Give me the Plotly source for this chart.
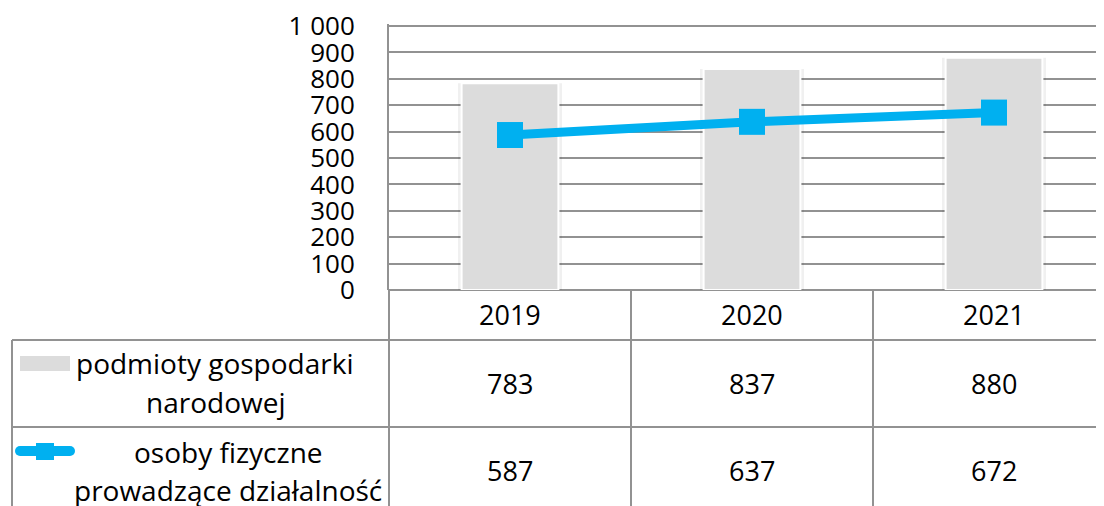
import plotly.graph_objects as go

# chart data
years = ["2019", "2020", "2021"]
podmioty = [783, 837, 880]
osoby = [587, 637, 672]
row_labels = [["podmioty gospodarki", "narodowej"],
              ["osoby fizyczne", "prowadzące działalność"]]

# page body has an 8px margin, so the figure is shifted by 8px in the window
OFF = 8
W, H = 1104 - OFF, 506 - OFF
FONT = "Open Sans"
GRID = "#929292"
BAR = "#DCDCDC"
BLUE = "#00B0F0"


def px(x):
    # window pixel -> paper x
    return (x - OFF) / W


def py(y):
    # window pixel -> paper y
    return 1 - (y - OFF) / H


fig = go.Figure()

# soft shadow behind the bars
fig.add_trace(go.Bar(x=years, y=podmioty, width=0.43,
                     marker=dict(color="rgba(0,0,0,0.06)", line=dict(width=0)),
                     hoverinfo="skip", showlegend=False))
fig.add_trace(go.Bar(x=years, y=podmioty, width=0.4, name="podmioty gospodarki narodowej",
                     marker=dict(color=BAR, line=dict(color="white", width=2)),
                     showlegend=False))
fig.add_trace(go.Scatter(x=years, y=osoby, mode="lines+markers",
                         name="osoby fizyczne prowadzące działalność",
                         line=dict(color=BLUE, width=9),
                         marker=dict(symbol="square", size=26, color=BLUE),
                         showlegend=False))

# one category is 242px wide, the plot is cut at the right window edge
cat_px = 242
# 1000 sits at y=26, 0 at y=290; the range goes a bit higher so that
# plotly keeps the top gridline
ymax = 1008
ytop = 290 - ymax * (290 - 26) / 1000
fig.update_xaxes(type="category", domain=[px(389), 1],
                 range=[-0.5, -0.5 + (1104 - 389) / cat_px],
                 showticklabels=False, showgrid=False, showline=False, zeroline=False)
fig.update_yaxes(domain=[py(290), py(ytop)], range=[0, ymax], dtick=100,
                 separatethousands=True, ticklabeloverflow="allow",
                 showgrid=True, gridcolor=GRID, gridwidth=2,
                 zeroline=True, zerolinecolor=GRID, zerolinewidth=2,
                 showline=True, linecolor=GRID, linewidth=2,
                 ticks="", ticklabelstandoff=27,
                 tickfont=dict(family=FONT, size=26, color="black"))

shapes = []
line = dict(color=GRID, width=2)
# table borders
for yy in [340, 427]:
    shapes.append(dict(type="line", xref="paper", yref="paper",
                       x0=px(12), x1=1, y0=py(yy), y1=py(yy), line=line))
shapes.append(dict(type="line", xref="paper", yref="paper",
                   x0=px(12), x1=px(12), y0=py(340), y1=0, line=line))
shapes.append(dict(type="line", xref="paper", yref="paper",
                   x0=px(389), x1=px(389), y0=py(290), y1=0, line=line))
for b in [0.5, 1.5]:
    shapes.append(dict(type="line", xref="x", yref="paper",
                       x0=b, x1=b, y0=py(290), y1=0, line=line))

# legend keys inside the table
shapes.append(dict(type="rect", xref="paper", yref="paper",
                   x0=px(20), x1=px(70), y0=py(371), y1=py(356),
                   fillcolor=BAR, line=dict(width=0)))
shapes.append(dict(type="rect", xref="paper", yref="paper",
                   x0=px(20), x1=px(70), y0=py(456), y1=py(446),
                   fillcolor=BLUE, line=dict(width=0)))
for cx in [20, 70]:
    shapes.append(dict(type="circle", xref="paper", yref="paper",
                       x0=px(cx - 5), x1=px(cx + 5), y0=py(456), y1=py(446),
                       fillcolor=BLUE, line=dict(width=0)))
shapes.append(dict(type="rect", xref="paper", yref="paper",
                   x0=px(36), x1=px(54), y0=py(460), y1=py(443),
                   fillcolor=BLUE, line=dict(width=0)))

annotations = []
nfont = dict(family=FONT, size=27, color="black")
lfont = dict(family=FONT, size=28, color="black")
for i, yr in enumerate(years):
    annotations.append(dict(x=i, y=py(314), xref="x", yref="paper", text=yr,
                            xanchor="center", yanchor="middle",
                            showarrow=False, font=nfont))
for i, v in enumerate(podmioty):
    annotations.append(dict(x=i, y=py(383), xref="x", yref="paper", text=str(v),
                            xanchor="center", yanchor="middle",
                            showarrow=False, font=nfont))
for i, v in enumerate(osoby):
    annotations.append(dict(x=i, y=py(470), xref="x", yref="paper", text=str(v),
                            xanchor="center", yanchor="middle",
                            showarrow=False, font=nfont))

label_pos = [[(215, 363), (215, 402)], [(228, 452), (228, 490)]]
for lines, pos in zip(row_labels, label_pos):
    for txt, (x, y) in zip(lines, pos):
        annotations.append(dict(x=px(x), y=py(y), xref="paper", yref="paper", text=txt,
                                xanchor="center", yanchor="middle",
                                showarrow=False, font=lfont))

fig.update_layout(width=W, height=H, template="none",
                  margin=dict(l=0, r=0, t=0, b=0),
                  barmode="overlay", separators=", ",
                  plot_bgcolor="white", paper_bgcolor="white",
                  shapes=shapes, annotations=annotations, showlegend=False)

fig.write_html("out.html")
